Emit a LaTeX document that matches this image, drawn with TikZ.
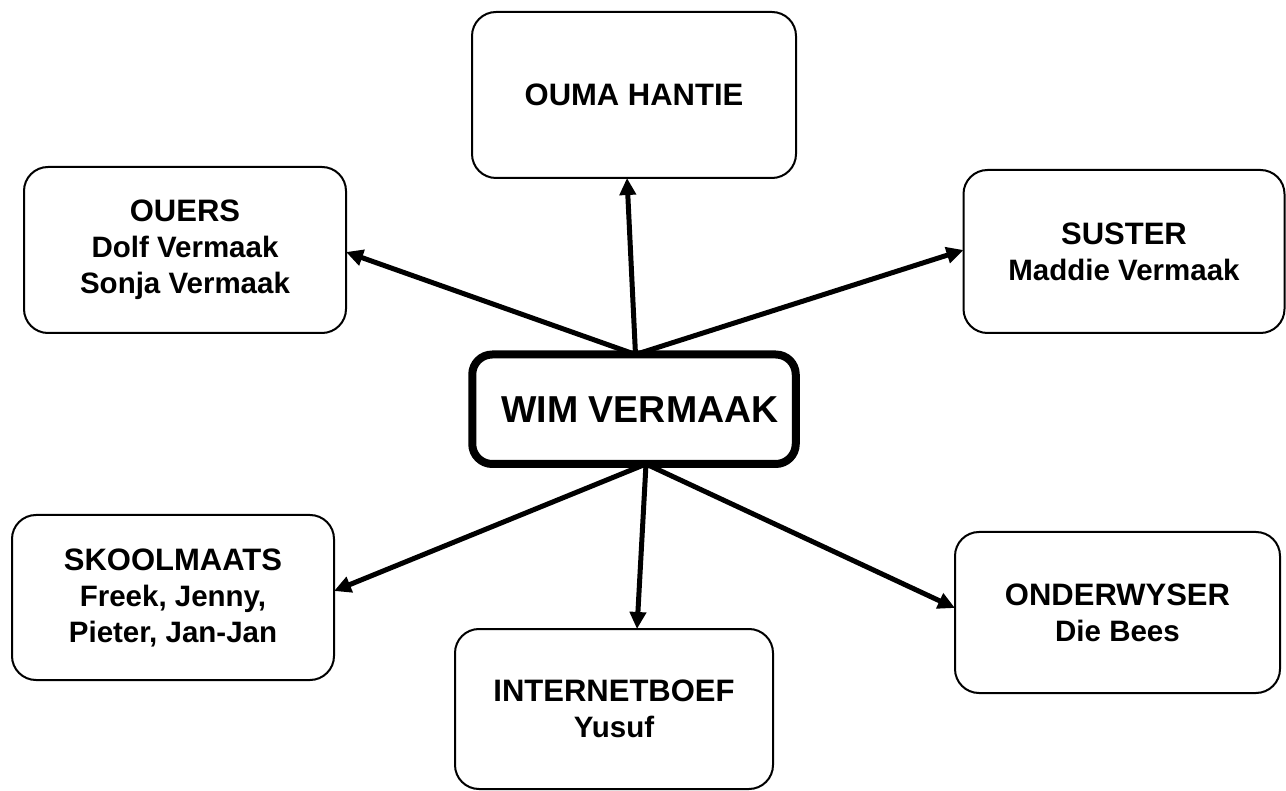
\documentclass[tikz,border=0pt]{standalone}
\usepackage{fontspec}
\setmainfont{Liberation Sans}
\usetikzlibrary{arrows.meta,calc}
\tikzset{
  box/.style={draw=black, line width=2pt, rounded corners=24pt, fill=white,
    inner sep=0pt, outer sep=0pt, align=center,
    font=\fontsize{29.5}{36}\selectfont\bfseries},
  mainbox/.style={draw=black, line width=8pt, rounded corners=20pt, fill=white,
    inner sep=0pt, outer sep=0pt, align=center,
    font=\fontsize{37.5}{40}\selectfont\bfseries},
  link/.style={line width=5pt, -{Triangle[length=17pt,width=16pt]}},
}
\newcommand{\ttl}[1]{{\fontsize{31}{36}\selectfont #1}}
\begin{document}
\begin{tikzpicture}[x=1pt,y=-1pt]
\path[use as bounding box, fill=white] (0,0) rectangle (1286,791);

\node[box, minimum width=324pt, minimum height=166pt] (ouma) at (634,95) {\ttl{OUMA HANTIE}};
\node[box, minimum width=322pt, minimum height=166pt] (ouers) at (185,250) {\ttl{OUERS}\\Dolf Vermaak\\Sonja Vermaak};
\node[box, minimum width=321pt, minimum height=163pt] (suster) at (1124,251.5) {\ttl{SUSTER}\\Maddie Vermaak};
\node[box, minimum width=322pt, minimum height=165pt] (skool) at (173,597.5) {\ttl{SKOOLMAATS}\\Freek, Jenny,\\Pieter, Jan-Jan};
\node[box, minimum width=318pt, minimum height=160pt] (inet) at (614,709) {\ttl{INTERNETBOEF}\\Yusuf};
\node[box, minimum width=325pt, minimum height=161pt] (onder) at (1117.5,612.5) {\ttl{ONDERWYSER}\\Die Bees};

\coordinate (top) at ($(634,354.5)+(1.5,0)$);
\coordinate (bot) at ($(634,464)+(12,0)$);

\draw[link] (top) -- ($(ouma.south)+(-7,0)$);
\draw[link] (top) -- ($(ouers.east)+(0,2)$);
\draw[link] (top) -- ($(suster.west)+(0,-1.5)$);
\draw[link] (bot) -- ($(skool.east)+(0,-6.5)$);
\draw[link] (bot) -- ($(inet.north)+(23,0)$);
\draw[link] (bot) -- ($(onder.west)+(0,-4.5)$);

\node[mainbox, minimum width=323.5pt, minimum height=109.5pt] (wim) at (634,409.25) {\hspace*{12pt}WIM VERMAAK};
\end{tikzpicture}
\end{document}
